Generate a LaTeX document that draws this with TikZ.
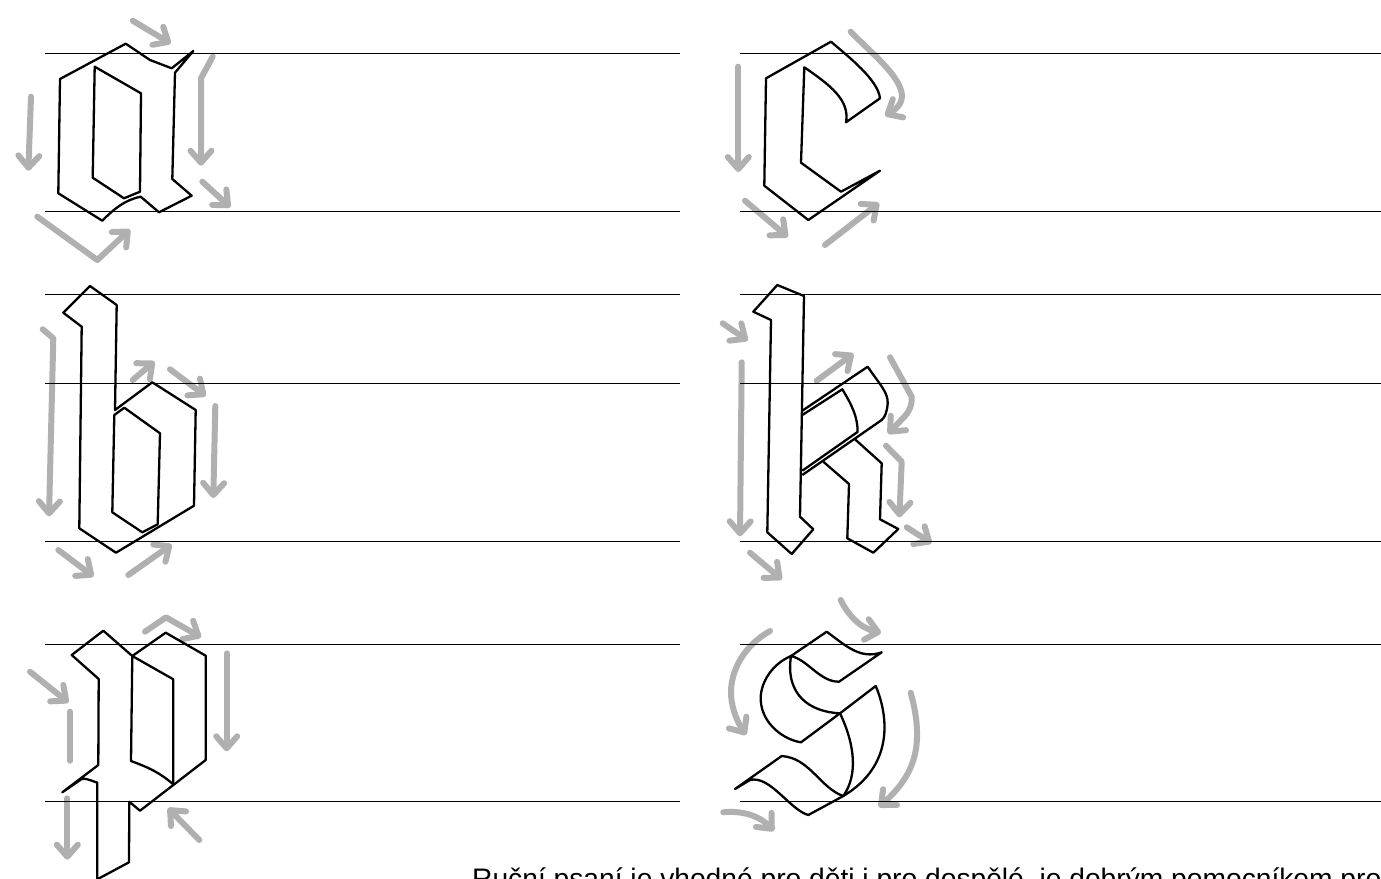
\documentclass[tikz,border=0pt]{standalone}
\usepackage{fontspec}
\setmainfont{Liberation Sans}
\usetikzlibrary{arrows.meta}

\definecolor{hint}{HTML}{B0B0B0}

\begin{document}
\begin{tikzpicture}[
  x=1pt, y=-1pt,
  >={Straight Barb[length=12pt, width=21pt, round]},
  rule/.style={line width=1pt, black},
  letter/.style={line width=2.3pt, black, line join=round},
  hintarr/.style={->, line width=6pt, hint, line cap=round, line join=round},
  hintbar/.style={line width=6pt, hint, line cap=round},
  caption/.style={inner sep=0pt, anchor=base west, font=\fontsize{28.2}{32}\selectfont},
]
  \useasboundingbox (0,0) rectangle (1381,878);

  % grey stroke hints
  \draw[hintarr] (132.7,20.7) -- (170.7,43.5);
  \draw[hintarr] (31,96.7) -- (28.3,170.7);
  \draw[hintarr] (212.7,56.7) -- (201,78.3) -- (201,165.7);
  \draw[hintarr] (202.3,181.7) -- (230.3,207.3);
  \draw[hintarr] (37.3,216.7) -- (97.3,260) -- (130,229.5);

  \draw[hintarr] (42.7,329.3) -- (53.3,338.3) -- (49,516.3);
  \draw[hintarr] (58.3,550) -- (93.5,576.5);
  \draw[hintarr] (128.3,575) -- (171.7,544.5);
  \draw[hintarr] (132.7,380) -- (154.5,361.5);
  \draw[hintarr] (170,369.3) -- (205.7,396);
  \draw[hintarr] (215.3,406) -- (213.3,498);

  \draw[hintarr] (145,631.7) -- (166,617.3) -- (201,637.3);
  \draw[hintarr] (30,671.7) -- (68.5,702.5);
  \draw[hintbar] (70,711.7) -- (70,760.7);
  \draw[hintarr] (226.7,653.3) -- (226.7,751.3);
  \draw[hintarr] (67.3,798.3) -- (67.3,859.7);
  \draw[hintarr] (199.3,840) -- (168,808);

  \draw[hintarr] (738.3,66.7) -- (738.3,172);
  \draw[hintarr] (745,200.7) -- (787.8,237);
  \draw[hintarr] (825,245) -- (879,203);
  \draw[hintarr] (850.7,31.7) .. controls (870,52) and (900,75) .. (902,95) .. controls (902,105) and (895,110) .. (885,115.7);

  \draw[hintarr] (722.7,323.3) -- (747.7,340.5);
  \draw[hintarr] (741.7,362.3) -- (740,536.3);
  \draw[hintarr] (750,552.7) -- (781.8,579.5);
  \draw[hintarr] (816.7,380.7) -- (853.4,353.7);
  \draw[hintarr] (890,357.3) -- (911.7,396.7) .. controls (912,405) and (910,410) .. (905,416) -- (888,433.8);
  \draw[hintarr] (886,445.7) -- (901.7,461.7) -- (899.3,517.3);
  \draw[hintarr] (906.7,527.3) -- (931.6,543.2);

  \draw[hintarr] (840.7,600) .. controls (848,615) and (860,628) .. (881,632.8);
  \draw[hintarr] (770,631) .. controls (745,645) and (730,670) .. (731,695) .. controls (732,710) and (738,723) .. (746,735);
  \draw[hintarr] (910.7,692.7) .. controls (925,745) and (915,775) .. (878.8,807);
  \draw[hintarr] (723.3,812.3) .. controls (745,810) and (762,818) .. (773.8,831);

  % ruled lines
  \foreach \ya in {53,211,294,383,541,644,801} {
    \draw[rule] (45,\ya) -- (680,\ya);
    \draw[rule] (740,\ya) -- (1381,\ya);
  }

  % a
  \draw[letter] (125.7,43.7) -- (150,60) -- (171.7,68.3) -- (193.3,51) -- (175,72.7)
    -- (172.3,179) -- (191.7,195.7) -- (159,212.3) -- (140.7,196.7)
    .. controls (125,200) and (115,208) .. (102.3,220.7)
    -- (58.3,193.3) -- (60,79) -- cycle;
  \draw[letter] (94.7,66.7) -- (141,93.3) -- (140,191.7) -- (124,198.3) -- (92.7,177.7) -- cycle;

  % b
  \draw[letter] (90,286) -- (116.7,305) -- (115,410) -- (152.3,382.3) -- (195.7,410)
    -- (194,505.7) -- (116,552.7) -- (79.3,528.3) -- (81.7,326.7) -- (63.3,312.7) -- cycle;
  \draw[letter] (124.3,407.7) -- (160,433.3) -- (157.7,524.3) -- (142.3,532.3)
    -- (112.3,512.3) -- (114.3,415) -- cycle;

  % p
  \draw[letter] (103.3,630.7) -- (132.3,656) -- (165.7,632.7) -- (205.7,655.7) -- (205.7,760)
    -- (140,810.7) -- (129.3,801.7) -- (129,862.3) -- (97.3,879.3) -- (97.3,782.7)
    .. controls (90,780) and (85,778) .. (81.7,779) -- (62.3,792.3)
    -- (98.3,765) -- (98.7,679) -- (71.7,655) -- cycle;
  \draw[letter] (132.3,656) -- (173.3,679.3) -- (173.3,784.3)
    .. controls (160,773) and (150,768) .. (131,761) -- cycle;

  % c
  \draw[letter] (831,41.7) .. controls (850,58) and (878,80) .. (880,98.3) -- (846,122.3)
    .. controls (850,100) and (830,85) .. (804.3,67.3) -- (801,162.7) -- (841,191.7)
    -- (880,170.7) -- (808.3,220) -- (764.3,185.7) -- (766,78.3) -- cycle;

  % k
  \draw[letter] (777.3,285) -- (804,296) -- (800,516.7) -- (813.3,529.3) -- (791.7,554)
    -- (767.3,532.3) -- (771,320) -- (753.3,311.7) -- cycle;
  \draw[letter] (802.3,410.7) -- (867.7,366.7)
    .. controls (880,385) and (888,392) .. (887.7,403.3)
    .. controls (887,412) and (885,417) .. (881.7,420) -- (802.3,475);
  \draw[letter] (802.3,415) -- (842.3,389.3) .. controls (852,405) and (858,418) .. (857.5,432) -- (802.3,470.7);
  \draw[letter] (855,439.3) -- (881.7,463.3) -- (880,519.3) -- (898.3,529) -- (873.3,552.7)
    -- (847.3,538.3) -- (849,484) -- (823.3,461.7);

  % s
  \draw[letter] (791,656) -- (826.7,631.7) .. controls (845,645) and (860,660) .. (881.7,652.3)
    -- (839,681.7) .. controls (820,682) and (808,660) .. (791,656) -- cycle;
  \draw[letter] (791,656) .. controls (770,665) and (760,685) .. (760.7,700)
    .. controls (762,725) and (785,740) .. (801,742.3) -- (840,713.3)
    .. controls (810,712) and (785,695) .. (791,656);
  \draw[letter] (840,713.3) -- (875.7,686) .. controls (888,715) and (895,765) .. (843.3,796);
  \draw[letter] (840,713.3) .. controls (855,745) and (858,775) .. (843.3,796);
  \draw[letter] (735,789) -- (781.7,756) .. controls (810,758) and (820,788) .. (843.3,796)
    -- (808.3,815) .. controls (790,810) and (770,775) .. (750,780) -- cycle;

  \node[caption] (note) at (472,888) {Ruční psaní je vhodné pro děti i pro dospělé, je dobrým pomocníkem pro};
\end{tikzpicture}
\end{document}
